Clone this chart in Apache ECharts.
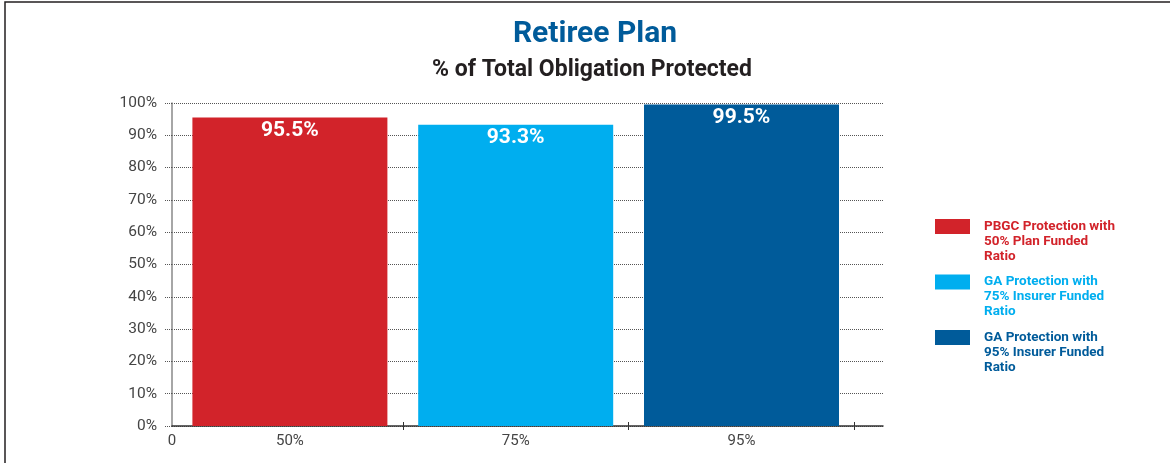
<!DOCTYPE html>
<html>
<head>
<meta charset="utf-8">
<script src="https://cdn.jsdelivr.net/npm/echarts@6/dist/echarts.min.js"></script>
<style>
html,body{margin:0;padding:0;background:#fff;}
#chart{width:1170px;height:463px;}
</style>
</head>
<body>
<div id="chart"></div>
<script>
const titleText = 'Retiree Plan';
const subtitleText = '% of Total Obligation Protected';
const categories = ['50%', '75%', '95%'];
const values = [95.5, 93.3, 99.5];
const seriesNames = [
  'PBGC Protection with\n50% Plan Funded\nRatio',
  'GA Protection with\n75% Insurer Funded\nRatio',
  'GA Protection with\n95% Insurer Funded\nRatio'
];
const colors = ['#d2232a', '#00aeef', '#005b9a'];
const yTickMax = 100;
const yTickStep = 10;

const axisFont = "'Liberation Sans Narrow', 'Roboto', sans-serif";
const boldFont = "'Roboto', 'Noto Sans', sans-serif";

const chart = echarts.init(document.getElementById('chart'), null, {renderer: 'canvas'});

const series = categories.map((c, i) => ({
  name: seriesNames[i],
  type: 'bar',
  xAxisIndex: 1,
  yAxisIndex: 1,
  barWidth: 195,
  barGap: '-100%',
  itemStyle: {color: colors[i]},
  label: {
    show: true,
    position: 'insideTop',
    distance: 3,
    color: '#fff',
    fontFamily: boldFont,
    fontWeight: 'bold',
    fontSize: 21,
    formatter: p => p.value.toFixed(1) + '%'
  },
  data: values.map((v, j) => (j === i ? v : '-'))
}));

const option = {
  animation: false,
  backgroundColor: '#fff',
  title: [
    {
      text: titleText,
      left: 590, top: 14, textAlign: 'center',
      textStyle: {color: '#005b9a', fontFamily: boldFont, fontWeight: 'bold', fontSize: 30}
    },
    {
      text: subtitleText,
      left: 587, top: 54, textAlign: 'center',
      textStyle: {color: '#231f20', fontFamily: boldFont, fontWeight: 'bold', fontSize: 23}
    }
  ],
  graphic: [
    {
      type: 'polyline',
      shape: {points: [[5, 463], [5, 2], [1170, 2]]},
      style: {stroke: '#231f20', lineWidth: 1.5, fill: null},
      silent: true
    }
  ],
  legend: {
    orient: 'vertical',
    left: 930,
    top: 184,
    itemWidth: 35,
    itemHeight: 15,
    itemGap: -19.5,
    icon: 'rect',
    selectedMode: false,
    formatter: n => '\n\n' + n,
    textStyle: {
      fontFamily: boldFont,
      fontWeight: 'bold',
      fontSize: 13.5,
      lineHeight: 15,
      padding: [0, 0, 0, 9]
    },
    data: seriesNames.map((n, i) => ({name: n, textStyle: {color: colors[i]}}))
  },
  grid: [
    {left: 172, right: 287, top: 103, bottom: 37, containLabel: false},
    {left: 177, right: 315.6, top: 103, bottom: 37, containLabel: false}
  ],
  xAxis: [
    {
      gridIndex: 0,
      type: 'value', min: 0, max: 1, interval: 1,
      axisLine: {show: true, lineStyle: {color: '#333', width: 1.5}},
      axisTick: {show: false},
      splitLine: {show: false},
      axisLabel: {
        show: true, margin: 8, color: '#444', fontFamily: axisFont, fontSize: 15,
        formatter: v => (v === 0 ? '0' : '')
      }
    },
    {
      gridIndex: 1,
      type: 'category', data: categories, boundaryGap: true,
      axisLine: {show: false},
      axisTick: {show: true, length: 4, interval: i => i !== 0, lineStyle: {color: '#333'}},
      splitLine: {show: false},
      axisLabel: {show: true, margin: 8, color: '#444', fontFamily: axisFont, fontSize: 15}
    },
    {
      gridIndex: 1,
      type: 'category', data: categories, boundaryGap: true, position: 'bottom',
      axisLine: {show: false},
      axisTick: {show: true, inside: true, length: 4, interval: i => i !== 0, lineStyle: {color: '#333'}},
      splitLine: {show: false},
      axisLabel: {show: false}
    }
  ],
  yAxis: [
    {
      gridIndex: 0,
      type: 'value', min: 0, max: yTickMax, interval: yTickStep,
      axisLine: {show: true, lineStyle: {color: '#888', width: 1.5}},
      axisTick: {show: true, length: 8, lineStyle: {color: '#555', type: 'dotted'}},
      splitLine: {show: true, lineStyle: {color: '#555', type: 'dotted', width: 1}},
      axisLabel: {
        margin: 15, color: '#444', fontFamily: axisFont, fontSize: 15.5,
        formatter: '{value}%'
      }
    },
    {
      gridIndex: 1,
      type: 'value', min: 0, max: yTickMax, interval: yTickStep, show: false
    }
  ],
  series: series
};

chart.setOption(option);
</script>
</body>
</html>
